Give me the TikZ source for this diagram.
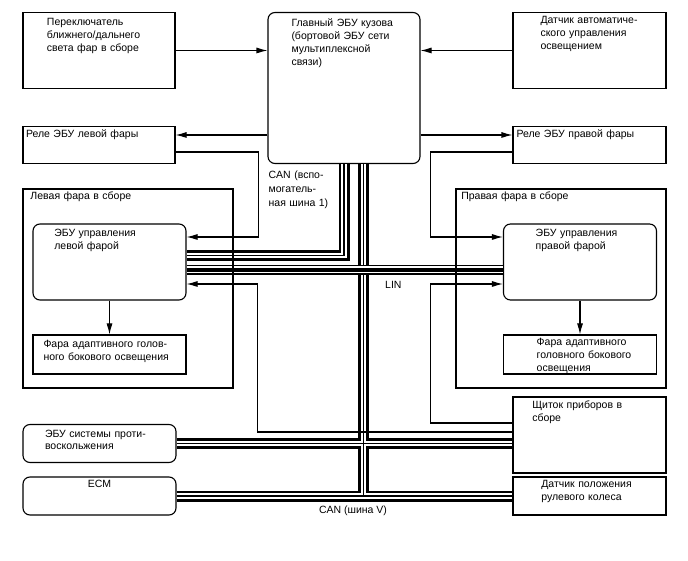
\documentclass[tikz,border=0pt]{standalone}
\usepackage{fontspec}
\setmainfont{Liberation Sans}
\usetikzlibrary{shapes,arrows.meta,positioning}

\begin{document}
\begin{tikzpicture}[x=1pt, y=1pt, node distance=100pt, font=\fontsize{10.5}{13}\selectfont]
    % Define styles
    \tikzstyle{block} = [draw, rectangle, line width=1.1pt, inner sep=0pt, align=left, text width=153pt]
    \tikzstyle{ecu} = [block, rounded corners=7pt]
    \tikzstyle{note} = [inner sep=0pt, align=left]
    \tikzstyle{arrow} = [line width=1.1pt, ->, >={Latex[length=11pt, width=6pt]}]
    \tikzstyle{canbus} = [line width=11pt, postaction={draw=white, line width=5.5pt}, postaction={draw=black, line width=1.5pt}]
    \tikzstyle{linbus} = [line width=10pt, postaction={draw=white, line width=7pt}, postaction={draw=black, line width=4pt}]
    \tikzset{pad/.style={execute at begin node={\leftskip=#1\relax}}}

    \useasboundingbox (0,0) rectangle (688,560);

    % Body ECU and its inputs
    \node[ecu, text width=152pt, text height=14pt, text depth=137pt, pad=23.5pt] (main) at (344,472) {Главный ЭБУ кузова\\(бортовой ЭБУ сети\\мультиплексной\\связи)};
    \node[block, text width=152pt, text height=13.5pt, text depth=62.5pt, pad=24pt, left of=main, xshift=-145pt, yshift=37.5pt] (switch) {Переключатель\\ближнего/дальнего\\света фар в сборе};
    \node[block, text height=11.5pt, text depth=64.5pt, pad=27.5pt, right of=main, xshift=145.5pt, yshift=37.5pt] (sensor) {Датчик автоматиче-\\ского управления\\освещением};

    % Relays
    \node[block, text width=152pt, text height=11pt, text depth=26pt, pad=3pt, below of=switch, yshift=5.5pt] (lrelay) {Реле ЭБУ левой фары};
    \node[block, text height=11pt, text depth=26pt, pad=3.5pt, below of=sensor, yshift=5.5pt] (rrelay) {Реле ЭБУ правой фары};

    % Headlight ECUs and lamps
    \node[ecu, text height=12.2pt, text depth=63.8pt, pad=21.3pt, below of=lrelay, xshift=10.5pt, yshift=-17pt] (lecu) {ЭБУ управления\\левой фарой};
    \node[ecu, text height=12.2pt, text depth=63.8pt, pad=32.2pt, below of=rrelay, xshift=-9.5pt, yshift=-17pt] (recu) {ЭБУ управления\\правой фарой};
    \node[block, text height=12.6pt, text depth=26.4pt, pad=10.5pt, below of=lecu, yshift=7.5pt] (llamp) {Фара адаптивного голов-\\ного бокового освещения};
    \node[block, text height=10.6pt, text depth=28.4pt, pad=33.2pt, below of=recu, yshift=7.5pt] (rlamp) {Фара адаптивного\\головного бокового\\освещения};

    % Units on CAN V
    \node[ecu, text height=12.5pt, text depth=25.5pt, pad=22pt, below of=llamp, xshift=-10pt, yshift=11pt] (antiskid) {ЭБУ системы проти-\\воскольжения};
    \node[ecu, text height=10.6pt, text depth=27.4pt, align=center, below of=antiskid, yshift=47.5pt] (ecm) {ECM};
    \node[block, text height=11.6pt, text depth=64.4pt, pad=19.3pt, below of=rlamp, xshift=9.5pt, yshift=19.5pt] (cluster) {Щиток приборов в\\сборе};
    \node[block, text height=10.6pt, text depth=27.4pt, pad=28.3pt, below of=cluster, yshift=39pt] (steering) {Датчик положения\\рулевого колеса};

    % Buses
    \coordinate (canv) at ([xshift=19.3pt]main.south);
    \draw[canbus] (main.south) |- ([yshift=6.5pt]lecu.east);
    \draw[canbus] (canv) -- (canv |- steering.west)
        (antiskid.east) -- ([yshift=-8.5pt]cluster.west)
        (ecm.east) -- (steering.west);
    \draw[linbus] ([yshift=-8pt]lecu.east) -- ([yshift=-8pt]recu.west);

    \node[note, text width=70pt, font=\fontsize{10.5}{14}\selectfont, anchor=base west] (canauxlbl) at ([shift={(1,-14)}]main.south west) {CAN (вспо-\\могатель-\\ная шина 1)};
    \node[note, anchor=base west] (linlbl) at (385,271) {LIN};
    \node[note, anchor=base] (canvlbl) at (353,47) {CAN (шина V)};

    % Signal lines
    \coordinate (lrelin) at ([yshift=10pt]lrelay.east);
    \coordinate (rrelin) at ([yshift=10pt]rrelay.west);
    \draw[arrow] (switch.east) -- (switch.east -| main.west);
    \draw[arrow] (sensor.west) -- (sensor.west -| main.east);
    \draw[arrow] (lrelin -| main.west) -- (lrelin);
    \draw[arrow] (rrelin -| main.east) -- (rrelin);
    \draw[arrow] ([yshift=-7pt]lrelay.east) -- ++(83,0) |- ([yshift=25pt]lecu.east);
    \draw[arrow] ([yshift=-7pt]rrelay.west) -- ++(-82,0) |- ([yshift=25pt]recu.west);
    \draw[arrow] ([yshift=12pt]cluster.west) -- ++(-82,0) |- ([yshift=-22pt]recu.west);
    \draw[arrow] ([yshift=3pt]cluster.west) -- ++(-255,0) |- ([yshift=-22pt]lecu.east);
    \draw[arrow] (lecu) -- (llamp);
    \draw[arrow] (recu) -- (rlamp);

    % Headlight assemblies
    \node[block, text width=210pt, text height=10.6pt, text depth=188.4pt, pad=7.5pt, below of=lrelay, xshift=29pt, yshift=-43.5pt] (lassy) {Левая фара в сборе};
    \node[block, text width=210pt, text height=10.6pt, text depth=188.4pt, pad=5.3pt, below of=rrelay, xshift=-28.5pt, yshift=-43.5pt] (rassy) {Правая фара в сборе};
\end{tikzpicture}
\end{document}
